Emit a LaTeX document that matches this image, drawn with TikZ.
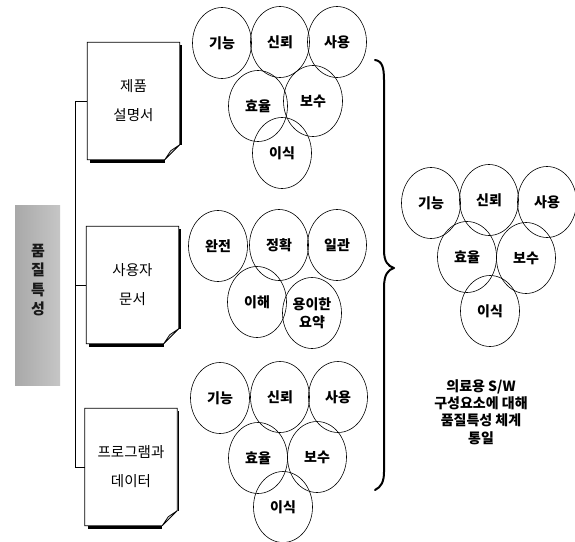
\documentclass[tikz,border=0pt]{standalone}
\usepackage{fontspec}
\setmainfont{Noto Sans CJK KR}
\usetikzlibrary{shapes.geometric}
\tikzset{
  qual/.style={ellipse, draw, line width=0.6pt, minimum width=59pt, minimum height=71pt, inner sep=0pt, align=center, font=\fontsize{14}{15}\selectfont\bfseries},
  docbox/.style={rectangle, draw=none, minimum width=92pt, minimum height=117pt, inner sep=0pt, align=center, font=\fontsize{14.5}{29}\selectfont},
  tree/.style={line width=0.8pt},
  bracestyle/.style={line width=2pt, line cap=round, line join=round}
}
\newcommand{\docshape}[1]{%
  \draw[line width=0.7pt] (#1.north west) -- (#1.north east) -- ([yshift=15pt]#1.south east) -- ([xshift=-15pt]#1.south east) -- (#1.south west) -- cycle;
  \draw[line width=0.7pt, fill=gray!35] ([yshift=15pt]#1.south east) -- ([xshift=-15pt]#1.south east) -- ([xshift=-9pt,yshift=9pt]#1.south east) -- cycle;
  \draw[line width=2.6pt] ([xshift=3pt,yshift=-1.5pt]#1.south west) -- ([xshift=-15pt,yshift=-1.5pt]#1.south east);
  \draw[line width=1.4pt] ([xshift=1.4pt,yshift=-3pt]#1.north east) -- ([xshift=1.4pt,yshift=15pt]#1.south east);
}
\begin{document}
\begin{tikzpicture}[x=1pt,y=-1pt]
\useasboundingbox[fill=white] (0,0) rectangle (575,541);

% left bar
\node[rectangle, minimum width=45pt, minimum height=180pt, inner sep=0pt, left color=gray!68, right color=gray!45] (bar) at (37.5,295) {};
\node[font=\fontsize{15}{19.5}\selectfont\bfseries, text=black!90, align=center, inner sep=0pt] (barlbl) at (38,280) {품\\질\\특\\성};

% documents
\node[docbox] (d1) at (133.5,101) {제품\\설명서};
\node[docbox] (d2) at (132.5,285) {사용자\\문서};
\node[docbox] (d3) at (131,467) {프로그램과\\데이터};
\docshape{d1}
\docshape{d2}
\docshape{d3}

% tree
\coordinate (ttop) at (75,101);
\draw[tree] (ttop) -- (ttop |- d3.west);
\draw[tree] (ttop) -- (d1.west);
\draw[tree] (ttop |- d2.west) -- (d2.west);
\draw[tree] (ttop |- d3.west) -- (d3.west);

% group 1
\node[qual] (a1) at (222,43) {기능};
\node[qual] (a2) at (280,42) {신뢰};
\node[qual] (a3) at (337,42) {사용};
\node[qual] (a4) at (258,106) {효율};
\node[qual] (a5) at (313,101) {보수};
\node[qual] (a6) at (282,153) {이식};

% group 2
\node[qual] (b1) at (218,246) {완전};
\node[qual] (b2) at (279,245) {정확};
\node[qual] (b3) at (337,245) {일관};
\node[qual] (b4) at (257,302) {이해};
\node[qual, font=\fontsize{14}{18}\selectfont\bfseries] (b5) at (312,313) {용이한\\요약};

% group 3
\node[qual] (c1) at (220,398) {기능};
\node[qual] (c2) at (280,397) {신뢰};
\node[qual] (c3) at (338,397) {사용};
\node[qual] (c4) at (258,458) {효율};
\node[qual] (c5) at (317,457) {보수};
\node[qual] (c6) at (283,507) {이식};

% group 4
\node[qual] (e1) at (431,203) {기능};
\node[qual] (e2) at (489,200) {신뢰};
\node[qual] (e3) at (547,202) {사용};
\node[qual] (e4) at (467,257) {효율};
\node[qual] (e5) at (526,258) {보수};
\node[qual] (e6) at (490,311) {이식};

% brace
\draw[bracestyle] (375,60) .. controls (382,61) and (384,67) .. (384,80) -- (384,250) .. controls (384,262) and (388,266) .. (394,268) .. controls (388,270) and (384,274) .. (384,288) -- (384,472) .. controls (384,482) and (381,487) .. (375,490);

% note
\node[font=\fontsize{14}{17.2}\selectfont\bfseries, align=center, inner sep=0pt] (note) at (481,412) {의료용 S/W\\구성요소에 대해\\품질특성 체계\\통일};
\end{tikzpicture}
\end{document}
